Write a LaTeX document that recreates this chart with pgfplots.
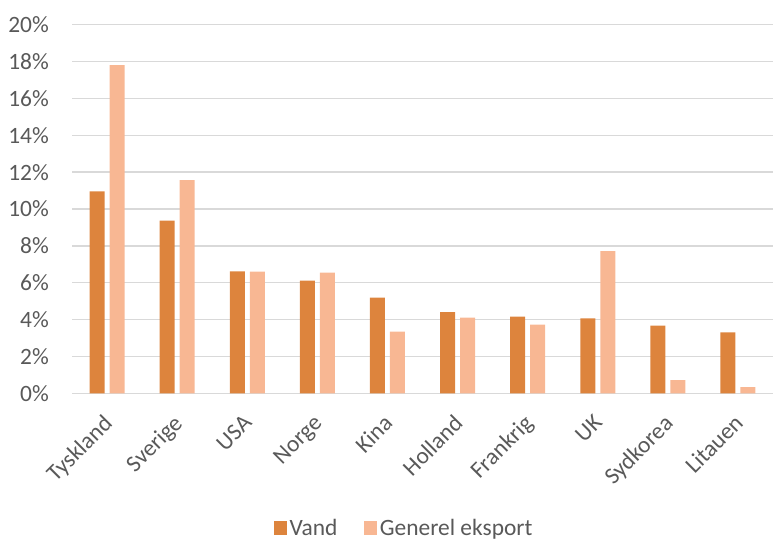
\documentclass[border=0pt]{standalone}
\usepackage{pgfplots}
\pgfplotsset{compat=1.18}
\usepackage{fontspec}
\setmainfont{Carlito}
\definecolor{vand}{RGB}{221,132,61}
\definecolor{eksport}{RGB}{248,183,147}
\definecolor{gridc}{RGB}{217,217,217}
\definecolor{txt}{RGB}{89,89,89}
\begin{document}
\begin{tikzpicture}
\begin{axis}[
    scale only axis,
    width=701bp, height=368.6bp,
    ybar=5bp, bar width=15bp,
    ymin=0, ymax=20,
    xmin=-0.5, xmax=9.5,
    xtick=data,
    xticklabels={Tyskland,Sverige,USA,Norge,Kina,Holland,Frankrig,UK,Sydkorea,Litauen},
    ytick={0,2,...,20},
    yticklabels={0\%,2\%,4\%,6\%,8\%,10\%,12\%,14\%,16\%,18\%,20\%},
    major tick length=0pt,
    ymajorgrids, grid style={gridc, line width=1.3bp},
    axis x line*=bottom, axis y line*=left,
    y axis line style={draw=none},
    x axis line style={gridc, line width=1.3bp, -},
    font=\fontsize{23.5}{27}\selectfont,
    tick label style={txt},
    yticklabel style={anchor=east, inner sep=0pt, xshift=-23bp},
    xticklabel style={anchor=north east, inner sep=0pt, xshift=-5bp, yshift=-20bp, rotate=45},
    legend style={at={(0.474,-0.366)}, anchor=center, draw=none, text=txt,
        legend columns=2, /tikz/every even column/.append style={column sep=24bp},
        nodes={inner xsep=2.5bp}},
    legend image code/.code={\fill[#1] (0bp,-6.8bp) rectangle (13.5bp,6.8bp);},
]
\addplot[fill=vand, draw=none] coordinates {
    (0,10.95) (1,9.37) (2,6.62) (3,6.12) (4,5.19) (5,4.41) (6,4.16) (7,4.07) (8,3.67) (9,3.31)};
\addplot[fill=eksport, draw=none] coordinates {
    (0,17.8) (1,11.57) (2,6.60) (3,6.55) (4,3.34) (5,4.11) (6,3.72) (7,7.72) (8,0.71) (9,0.33)};
\legend{Vand,Generel eksport}
\end{axis}
\pgfresetboundingbox
\path (-72bp,-149.7bp) rectangle (701bp,393.3bp);
\end{tikzpicture}
\end{document}
